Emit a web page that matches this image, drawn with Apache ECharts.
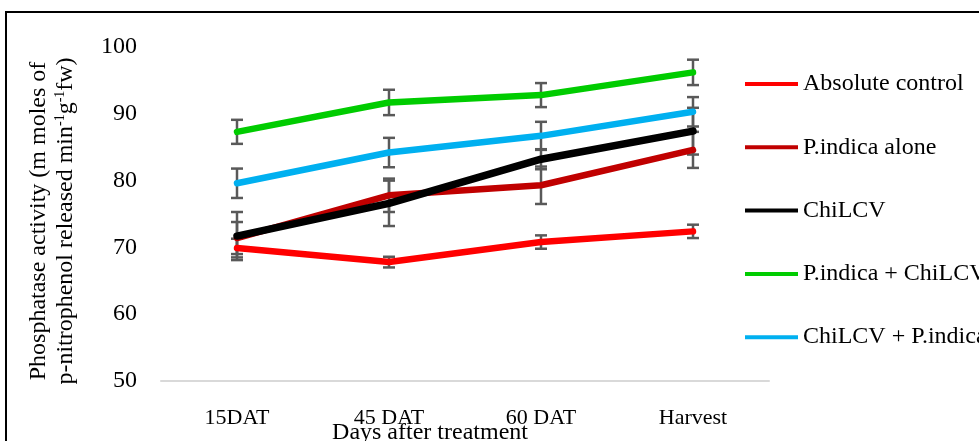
<!DOCTYPE html>
<html>
<head>
<meta charset="utf-8">
<script src="https://cdn.jsdelivr.net/npm/echarts@6/dist/echarts.min.js"></script>
<style>html,body{margin:0;padding:0;background:#fff}#c{width:979px;height:441px}</style>
</head>
<body>
<div id="c"></div>
<script>
var categories = ['15DAT', '45 DAT', '60 DAT', 'Harvest'];
var seriesNames = ['Absolute control', 'P.indica alone', 'ChiLCV', 'P.indica + ChiLCV', 'ChiLCV + P.indica'];
var absoluteControl = [69.9, 67.8, 70.8, 72.4];
var pIndicaAlone = [71.4, 77.8, 79.3, 84.6];
var chiLCV = [71.7, 76.6, 83.2, 87.4];
var pIndicaChiLCV = [87.3, 91.7, 92.8, 96.2];
var chiLCVPIndica = [79.6, 84.2, 86.7, 90.3];
var errAbsoluteControl = [1.4, 0.8, 1.0, 1.0];
var errPIndicaAlone = [2.4, 2.5, 2.8, 2.7];
var errChiLCV = [3.6, 3.4, 1.5, 3.5];
var errPIndicaChiLCV = [1.8, 1.9, 1.8, 1.9];
var errChiLCVPIndica = [2.2, 2.2, 2.1, 2.2];
var yTicks = [50, 60, 70, 80, 90, 100];

var values = [absoluteControl, pIndicaAlone, chiLCV, pIndicaChiLCV, chiLCVPIndica];
var errors = [errAbsoluteControl, errPIndicaAlone, errChiLCV, errPIndicaChiLCV, errChiLCVPIndica];
var colors = ['#ff0000', '#c00000', '#000000', '#00cc00', '#00b0f0'];
var widths = [6.5, 6.5, 7.5, 6.5, 6.5];
var serif = '"Liberation Serif", "Times New Roman", serif';

var series = [];
values.forEach(function (vals, s) {
  series.push({
    type: 'custom',
    z: 1,
    silent: true,
    data: vals.map(function (v, i) { return [i, v - errors[s][i], v + errors[s][i]]; }),
    renderItem: function (params, api) {
      var lo = api.coord([api.value(0), api.value(1)]);
      var hi = api.coord([api.value(0), api.value(2)]);
      var hw = 6;
      var st = { stroke: '#595959', lineWidth: 2.5 };
      return {
        type: 'group',
        children: [
          { type: 'line', shape: { x1: lo[0], y1: lo[1], x2: hi[0], y2: hi[1] }, style: st },
          { type: 'line', shape: { x1: lo[0] - hw, y1: lo[1], x2: lo[0] + hw, y2: lo[1] }, style: st },
          { type: 'line', shape: { x1: hi[0] - hw, y1: hi[1], x2: hi[0] + hw, y2: hi[1] }, style: st }
        ]
      };
    }
  });
});
values.forEach(function (vals, s) {
  series.push({
    name: seriesNames[s],
    type: 'line',
    z: 5,
    data: vals,
    symbol: 'none',
    smooth: false,
    itemStyle: { color: colors[s] },
    lineStyle: { color: colors[s], width: widths[s], cap: 'round', join: 'round' }
  });
});

var chart = echarts.init(document.getElementById('c'), null, { renderer: 'canvas' });
chart.setOption({
  animation: false,
  backgroundColor: '#ffffff',
  grid: { left: 161, right: 210, top: 47, bottom: 60, containLabel: false },
  legend: {
    orient: 'vertical',
    left: 745,
    top: 72,
    padding: 0,
    itemGap: 39.3,
    itemWidth: 53,
    itemHeight: 4,
    icon: 'rect',
    data: seriesNames,
    textStyle: { fontFamily: serif, fontSize: 24, color: '#000', lineHeight: 24 }
  },
  xAxis: {
    type: 'category',
    data: categories,
    boundaryGap: true,
    axisLine: { lineStyle: { color: '#d9d9d9', width: 2 } },
    axisTick: { show: false },
    axisLabel: { fontFamily: serif, fontSize: 22, color: '#000', margin: 26 }
  },
  yAxis: {
    type: 'value',
    min: yTicks[0],
    max: yTicks[yTicks.length - 1],
    interval: 10,
    axisLine: { show: false },
    axisTick: { show: false },
    splitLine: { show: false },
    axisLabel: { fontFamily: serif, fontSize: 24, color: '#000', margin: 24 }
  },
  graphic: [
    {
      type: 'rect',
      shape: { x: 6, y: 12, width: 1100, height: 600 },
      style: { fill: 'none', stroke: '#000', lineWidth: 2 },
      silent: true
    },
    {
      type: 'text',
      x: 430,
      y: 433,
      style: {
        text: 'Days after treatment',
        font: '24px ' + serif,
        fill: '#000',
        textAlign: 'center',
        textVerticalAlign: 'middle'
      }
    },
    {
      type: 'text',
      x: 51,
      y: 221,
      rotation: Math.PI / 2,
      style: {
        text: '{n|Phosphatase activity (m moles of}\n{n|p-nitrophenol released min}{s|-1}{n|g}{s|-1}{n|fw)}',
        fill: '#000',
        textAlign: 'center',
        textVerticalAlign: 'middle',
        rich: {
          n: { fontFamily: serif, fontSize: 24, lineHeight: 27, verticalAlign: 'bottom', fill: '#000' },
          s: { fontFamily: serif, fontSize: 14, lineHeight: 27, verticalAlign: 'top', fill: '#000', padding: [2, 0, 0, 0] }
        }
      }
    }
  ],
  series: series
});
</script>
</body>
</html>
